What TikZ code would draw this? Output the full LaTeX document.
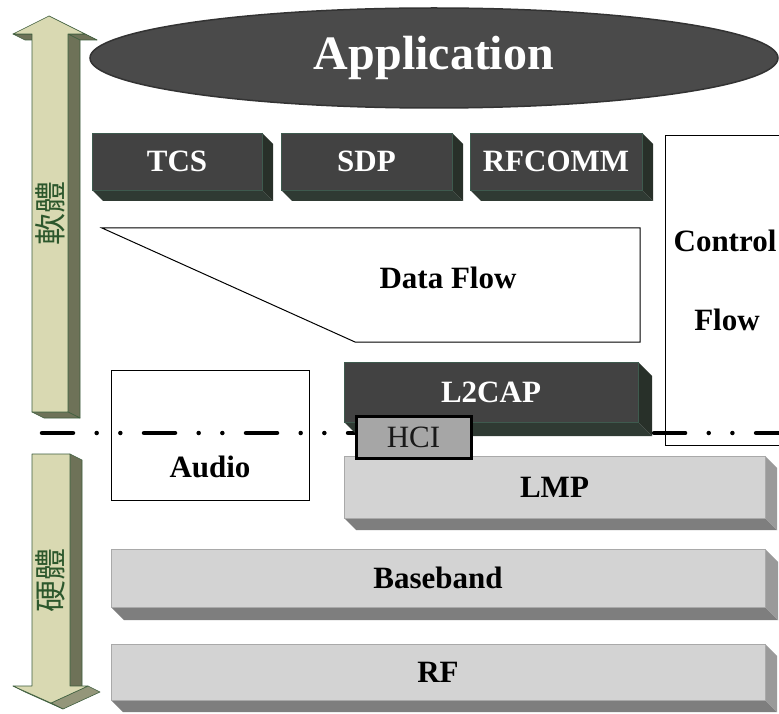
\documentclass[tikz,border=0pt]{standalone}
\usepackage{fontspec}
\setmainfont{Liberation Serif}
\newfontfamily\cjk{Noto Sans CJK TC}
\usetikzlibrary{shapes.geometric}

\definecolor{appfill}{HTML}{4A4A4A}
\definecolor{appline}{HTML}{333333}
\definecolor{dkface}{HTML}{424242}
\definecolor{dkedge}{HTML}{3E5A4E}
\definecolor{dkbot}{HTML}{2F3A33}
\definecolor{dkside}{HTML}{283029}
\definecolor{ltface}{HTML}{D3D3D3}
\definecolor{ltedge}{HTML}{A9A9A9}
\definecolor{ltbot}{HTML}{7E7E7E}
\definecolor{ltside}{HTML}{9A9A9A}
\definecolor{hcifill}{HTML}{A6A6A6}
\definecolor{armface}{HTML}{D9D9B2}
\definecolor{armside}{HTML}{6E7258}
\definecolor{armslope}{HTML}{94967A}
\definecolor{armedge}{HTML}{3E5E3E}
\definecolor{armtext}{HTML}{2C572C}

\tikzset{
  darkface/.style={draw=dkedge, line width=0.8pt, fill=dkface, inner sep=0pt, outer sep=0pt,
    text=white, font=\bfseries\fontsize{31}{31}\selectfont},
  darkbot/.style={fill=dkbot},
  darkside/.style={fill=dkside},
  lightface/.style={draw=ltedge, line width=0.8pt, fill=ltface, inner sep=0pt, outer sep=0pt,
    text=black, font=\bfseries\fontsize{31}{31}\selectfont},
  lightbot/.style={fill=ltbot},
  lightside/.style={fill=ltside},
  label/.style={inner sep=0pt, font=\bfseries\fontsize{31}{31}\selectfont},
  outlinebox/.style={draw=black, line width=1pt, fill=white},
  armbody/.style={fill=armface, draw=armedge, line width=0.6pt, line join=round},
  armdark/.style={fill=armside, draw=armedge, line width=0.6pt, line join=round},
  armmid/.style={fill=armslope, draw=armedge, line width=0.6pt, line join=round},
  armlabel/.style={inner sep=0pt, text=armtext, font=\cjk\fontsize{32}{32}\selectfont, rotate=90},
  sepline/.style={line width=4.5pt, line cap=round,
    dash pattern=on 31pt off 23.67pt on 0pt off 23.67pt on 0pt off 23.67pt},
}

% extruded block: name, left, top, right, bottom, depth, style prefix, text
\newcommand\solidblock[8]{%
  \fill[#7bot] (#2,#5) -- ({#2+#6},{#5+#6}) -- ({#4+#6},{#5+#6}) -- (#4,#5) -- cycle;
  \fill[#7side] (#4,#3) -- ({#4+#6},{#3+#6}) -- ({#4+#6},{#5+#6}) -- (#4,#5) -- cycle;
  \node[#7face, minimum width={(#4-#2)*1pt}, minimum height={(#5-#3)*1pt}]
    (#1) at ({(#2+#4)/2},{(#3+#5)/2}) {#8};
}

\begin{document}
\begin{tikzpicture}[x=1pt,y=-1pt]
\useasboundingbox (0,0) rectangle (779,714);
\clip (0,0) rectangle (779,714);
\fill[white] (0,0) rectangle (779,714);

% ---- software arrow (pointing up) ----
\path[armmid]  (49,16) -- (85,34) -- (97,40) -- (61,22) -- cycle;
\path[armdark] (85,34) -- (68,34) -- (80,40) -- (97,40) -- cycle;
\path[armdark] (68,34) -- (68,412) -- (80,418) -- (80,40) -- cycle;
\path[armdark] (32,412) -- (68,412) -- (80,418) -- (44,418) -- cycle;
\path[armdark] (13,34) -- (32,34) -- (44,40) -- (25,40) -- cycle;
\path[armbody] (49,16) -- (85,34) -- (68,34) -- (68,412) -- (32,412) -- (32,34) -- (13,34) -- cycle;
\node[armlabel] (soft) at (50,213) {軟體};

% ---- hardware arrow (pointing down) ----
\path[armdark] (70,454) -- (82,460) -- (82,692) -- (70,686) -- cycle;
\path[armmid]  (88,686) -- (100,692) -- (63,709) -- (51,703) -- cycle;
\path[armmid]  (13,686) -- (51,703) -- (63,709) -- (25,692) -- cycle;
\path[armbody] (32,454) -- (70,454) -- (70,686) -- (88,686) -- (51,703) -- (13,686) -- (32,686) -- cycle;
\node[armlabel] (hard) at (50,580) {硬體};

% ---- application layer ----
\node[ellipse, fill=appfill, draw=appline, line width=1.5pt, inner sep=0pt,
      minimum width=688pt, minimum height=100pt, text=white,
      font=\bfseries\fontsize{48}{48}\selectfont] (app) at (434,58) {Application};

% ---- protocols above L2CAP ----
\solidblock{tcs}{92}{133}{262}{190}{11}{dark}{TCS}
\solidblock{sdp}{281}{133}{452}{190}{11}{dark}{SDP}
\solidblock{rfcomm}{470}{133}{642}{190}{11}{dark}{RFCOMM}

% ---- data flow wedge ----
\draw[line width=1pt, fill=white] (102,228) -- (640,228) -- (640,342) -- (355,342) -- cycle;
\node[label] (dataflow) at (448,278) {Data Flow};

% ---- control flow column ----
\draw[outlinebox] (665,136) rectangle (800,445);
\node[label] (ctrl) at (725,241) {Control};
\node[label] (ctrlflow) at (727,320) {Flow};

% ---- audio ----
\draw[outlinebox] (111,370) rectangle (309,500);
\node[label] (audio) at (210,467) {Audio};

% ---- software / hardware boundary ----
\coordinate (sepL) at (42,433);
\coordinate (sepR) at (800,433);
\draw[sepline] (sepL) -- (sepR);

% ---- lower stack ----
\solidblock{l2cap}{344}{362}{638}{422}{14}{dark}{L2CAP}
\solidblock{lmp}{344}{456}{765}{518}{12}{light}{LMP}
\node[draw=black, line width=3pt, fill=hcifill, inner sep=0pt,
      minimum width=115pt, minimum height=42pt, text=black!90,
      font=\fontsize{31}{31}\selectfont] (hci) at (413.5,437) {HCI};
\solidblock{baseband}{111}{549}{765}{607}{13}{light}{Baseband}
\solidblock{rf}{111}{644}{765}{700}{12}{light}{RF}
\end{tikzpicture}
\end{document}
